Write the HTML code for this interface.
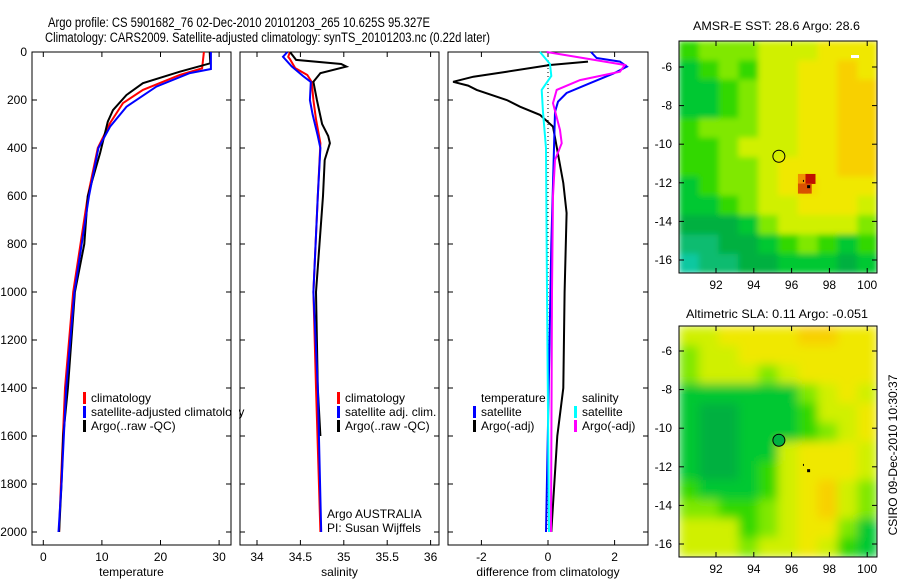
<!DOCTYPE html>
<html><head><meta charset="utf-8"><style>
body{margin:0;background:#fff}
svg{display:block;font-family:"Liberation Sans",sans-serif}
</style></head><body>
<svg id="s" width="900" height="580" viewBox="0 0 900 580" xmlns="http://www.w3.org/2000/svg">
<defs>
<filter id="bl" x="0" y="0" width="1" height="1"><feGaussianBlur stdDeviation="5" edgeMode="duplicate"/></filter>
<filter id="bl2" x="0" y="0" width="1" height="1"><feGaussianBlur stdDeviation="3" edgeMode="duplicate"/></filter>
<clipPath id="c1"><rect x="679" y="41" width="198" height="232"/></clipPath>
<clipPath id="c2"><rect x="679" y="326" width="198" height="231"/></clipPath>
</defs>
<text x="48" y="27" font-size="13.5" textLength="382" lengthAdjust="spacingAndGlyphs">Argo profile: CS 5901682_76 02-Dec-2010 20101203_265 10.625S 95.327E</text>
<text x="45" y="42" font-size="13.5" textLength="445" lengthAdjust="spacingAndGlyphs">Climatology: CARS2009. Satellite-adjusted climatology: synTS_20101203.nc (0.22d later)</text>
<text x="693" y="30" font-size="12" textLength="167" lengthAdjust="spacingAndGlyphs">AMSR-E SST: 28.6 Argo: 28.6</text>
<text x="686" y="318" font-size="12" textLength="182" lengthAdjust="spacingAndGlyphs">Altimetric SLA: 0.11 Argo: -0.051</text>
<text transform="translate(897,455) rotate(-90)" font-size="12" text-anchor="middle">CSIRO 09-Dec-2010 10:30:37</text>
<g id="g"></g>
</svg>
<script>
// ---- Temperature panel data ----
const tArgoD=[0,47,82,130,179,242,290,421,600,800,1000,1400,1600,1800,2000];
const tArgoV=[28.4,28.5,23.3,17,14.2,11.9,11,9.7,7.6,7.0,5.4,4.2,3.4,3.1,2.7];
const tClimD=[0,68,96,158,213,296,400,600,1000,1400,1800,2000];
const tClimV=[27.4,27.1,23.3,17,13.6,11.4,9.3,7.6,5.1,3.7,3.0,2.7];
const tSatD=[0,71,88,144,228,311,400,600,1000,1400,1800,2000];
const tSatV=[28.6,28.6,25,19.3,14.2,11.4,9.4,7.8,5.3,3.9,3.1,2.6];
// ---- Salinity panel data ----
const sArgoD=[0,33,50,61,88,124,200,300,350,380,450,600,800,1000,1400,1600];
const sArgoV=[34.38,34.45,34.97,35.03,34.73,34.65,34.69,34.75,34.82,34.84,34.78,34.76,34.72,34.68,34.70,34.73];
const sClimD=[0,20,30,67,96,125,200,280,380,600,1000,1400,2000];
const sClimV=[34.38,34.36,34.38,34.44,34.58,34.63,34.65,34.68,34.73,34.70,34.65,34.68,34.73];
const sSatD=[0,20,60,100,125,200,260,350,400,600,1000,1400,2000];
const sSatV=[34.35,34.3,34.4,34.53,34.62,34.61,34.64,34.70,34.73,34.70,34.65,34.70,34.74];
// ---- Difference panel data ----
const dTSatD=[0,25,40,61,90,130,171,207,250,400,800,1400,2000];
const dTSatV=[1.29,1.46,2.16,2.37,1.96,1.26,0.56,0.3,0.21,0.18,0.1,0.02,-0.06];
const dTArgoD=[40,54,82,103,124,140,158,200,228,262,311,546,671,1000,1400,1600,2000];
const dTArgoV=[1.2,0.06,-1.24,-2.24,-2.85,-2.4,-2.14,-1.24,-0.84,-0.24,0.15,0.46,0.56,0.5,0.46,0.28,0.1];
const dSSatD=[0,50,100,158,250,400,1000,2000];
const dSSatV=[-0.24,0.06,0.1,-0.19,-0.15,-0.06,-0.03,0.03];
const dSArgoD=[0,25,54,82,117,158,213,325,380,450,600,1000,2000];
const dSArgoV=[-0.04,1.05,2.31,2.16,0.96,0.26,0.15,0.36,0.41,0.21,0.15,0.12,0.09];
// ---- Map grids (color index 0..10), rows top->bottom ----
const sstGrid=[
[4,5,5,5,6,6,6,7,7,7],[3,4,5,4,6,6,7,7,8,7],[3,3,4,5,6,6,7,7,8,8],[3,3,4,5,6,6,7,7,8,8],
[4,5,5,5,6,6,7,7,8,8],[4,4,5,6,6,6,7,7,8,8],[4,4,5,5,6,7,7,7,8,8],[3,4,5,5,6,7,7.5,7,7,7],
[3,3,4,5,6,6,7,7,7,6],[2,2,2,3,5,6,6,6,6,5],[1,1,2,2,3,4,5,4,3,4],[0,1,1,2,2,3,3,3,2,3]];
const slaGrid=[
[6,6,7,7,7,7,8,8,7,7],[5,6,6,7,7,7,7,7,7,7],[5,6,6,6,5,6,7,7,7,7],[3,3,3,3,3,3,5,6,7,6],
[3,2,2,3,3,3,4,6,6,7],[3,2,2,3,3,3,4,5,6,7],[3,2,2,3,3,6,7,7,7,6],[3,2,2,3,4,6,7,7,7,6],
[4,3,3,3,4,6,7,8,6,5],[5,5,4,4,5,6,7,8,6,5],[6,6,6,4,5,6,7,7,5,3],[6,6,6,5,6,6,7,6,4,3]];
const depthTicks=[0,200,400,600,800,1000,1200,1400,1600,1800,2000];
const tTicks=[0,10,20,30], sTicks=[34,34.5,35,35.5,36], dTicks=[-2,0,2];
const latTicks=[-6,-8,-10,-12,-14,-16], lonTicks=[92,94,96,98,100];
const argoLon=95.327, argoLat=-10.625;

const NS='http://www.w3.org/2000/svg', G=document.getElementById('g');
function mk(t,a,p){const e=document.createElementNS(NS,t);for(const k in a)e.setAttribute(k,a[k]);(p||G).appendChild(e);return e;}
const yD=d=>52+d*0.24;
const panels=[
 {x0:32,x1:231,f:v=>43.3+v*5.86,ticks:tTicks,title:'temperature',name:'temperature'},
 {x0:240,x1:439,f:v=>257+(v-34)*86.8,ticks:sTicks,title:'salinity',name:'salinity'},
 {x0:448,x1:648,f:v=>548+v*33.3,ticks:dTicks,title:'difference from climatology',name:'difference'}];
panels.forEach((p,i)=>{
 const r=mk('rect',{x:p.x0,y:52,width:p.x1-p.x0,height:493,fill:'none',stroke:'#000','stroke-width':1});
 
 
 depthTicks.forEach(d=>{
  mk('line',{x1:p.x0,x2:p.x0+5,y1:yD(d),y2:yD(d),stroke:'#000'});
  mk('line',{x1:p.x1-5,x2:p.x1,y1:yD(d),y2:yD(d),stroke:'#000'});
  if(i==0){const t=mk('text',{x:27,y:yD(d)+4,'font-size':12,'text-anchor':'end'});t.textContent=d;
   
   }
 });
 p.ticks.forEach(v=>{const x=p.f(v);
  mk('line',{x1:x,x2:x,y1:52,y2:57,stroke:'#000'});mk('line',{x1:x,x2:x,y1:540,y2:545,stroke:'#000'});
  const t=mk('text',{x:x,y:561,'font-size':12,'text-anchor':'middle'});t.textContent=v;
  
  });
 const tt=mk('text',{x:(p.x0+p.x1)/2,y:576,'font-size':12,'text-anchor':'middle'});tt.textContent=p.title;
 
 
});
function line(D,V,f,col,name){const pts=D.map((d,k)=>f(V[k]).toFixed(1)+','+yD(d).toFixed(1)).join(' ');
 const l=mk('polyline',{points:pts,fill:'none',stroke:col,'stroke-width':2});
 
 }
mk('line',{x1:548,x2:548,y1:52,y2:530,stroke:'#000','stroke-dasharray':'1,3'});
line(tClimD,tClimV,panels[0].f,'#f00','temp-climatology-line');
line(tArgoD,tArgoV,panels[0].f,'#000','temp-argo-line');
line(tSatD,tSatV,panels[0].f,'#00f','temp-satellite-line');
line(sClimD,sClimV,panels[1].f,'#f00','sal-climatology-line');
line(sArgoD,sArgoV,panels[1].f,'#000','sal-argo-line');
line(sSatD,sSatV,panels[1].f,'#00f','sal-satellite-line');
line(dTArgoD,dTArgoV,panels[2].f,'#000','diff-temp-argo-line');
line(dTSatD,dTSatV,panels[2].f,'#00f','diff-temp-satellite-line');
line(dSSatD,dSSatV,panels[2].f,'#0ff','diff-sal-satellite-line');
line(dSArgoD,dSArgoV,panels[2].f,'#f0f','diff-sal-argo-line');
function leg(x,y,col,txt,name){ if(col)mk('rect',{x:x,y:y-10,width:3,height:12,fill:col});
 const t=mk('text',{x:x+8,y:y,'font-size':12});t.textContent=txt;
 
 }
leg(83,402,'#f00','climatology','legend-climatology');
leg(83,416,'#00f','satellite-adjusted climatology','legend-satellite-adjusted');
leg(83,430,'#000','Argo(..raw -QC)','legend-argo');
leg(337,402,'#f00','climatology','legend-sal-climatology');
leg(337,416,'#00f','satellite adj. clim.','legend-sal-satellite');
leg(337,430,'#000','Argo(..raw -QC)','legend-sal-argo');
leg(319,518,null,'Argo AUSTRALIA','argo-australia-label');
leg(319,532,null,'PI: Susan Wijffels','pi-label');
leg(473,402,null,'temperature','legend-temp-header');
leg(473,416,'#00f','satellite','legend-temp-satellite');
leg(473,430,'#000','Argo(-adj)','legend-temp-argo');
leg(574,402,null,'salinity','legend-sal-header');
leg(574,416,'#0ff','satellite','legend-diff-sal-satellite');
leg(574,430,'#f0f','Argo(-adj)','legend-diff-sal-argo');
// overflow clip for panel-1 legend text (clipped by next panel in reference)
mk('rect',{x:232,y:400,width:7,height:20,fill:'#fff'});
mk('line',{x1:231,x2:231,y1:390,y2:420,stroke:'#000'});
mk('line',{x1:240,x2:240,y1:390,y2:420,stroke:'#000'});
// maps
const stops=[[0,[16,200,160]],[2,[0,176,64]],[3,[0,200,48]],[4,[48,216,0]],[5,[128,232,0]],[6,[208,240,0]],[7,[240,232,0]],[8,[248,208,0]],[9,[240,144,0]],[10,[192,16,0]]];
function cmap(v){for(let k=1;k<stops.length;k++){if(v<=stops[k][0]){const a=stops[k-1],b=stops[k],t=(v-a[0])/(b[0]-a[0]);
 return 'rgb('+a[1].map((c,j)=>Math.round(c+(b[1][j]-c)*t)).join(',')+')';}}return 'rgb(192,16,0)';}
function map(m){
 const lx=v=>716+(v-92)*18.9, ly=v=>m.y6+(-6-v)*19.3;
 const gg=mk('g',{'clip-path':'url(#'+m.clip+')'});
 const inner=mk('g',{filter:'url(#'+m.filt+')'},gg);
 const rows=m.grid.length, cols=m.grid[0].length, cw=198/cols, rh=m.h/rows;
 m.grid.forEach((row,r)=>row.forEach((v,c)=>{const e=mk('rect',{x:679+c*cw,y:m.y0+r*rh,width:cw+0.5,height:rh+0.5,fill:cmap(v)},inner);
  
  }));
 if(m.hot){[[96.6,-11.8,9],[97.0,-11.8,10],[96.8,-12.3,9.5],[96.6,-12.3,9.5]].forEach(h=>{
  mk('rect',{x:lx(h[0])-5,y:ly(h[1])-5,width:10,height:10,fill:cmap(h[2])},gg);});
  mk('rect',{x:851,y:55,width:8,height:3,fill:'#fff'},gg);}
 const fr=mk('rect',{x:679,y:m.y0,width:198,height:m.h,fill:'none',stroke:'#000'});
 
 
 latTicks.forEach(v=>{const y=ly(v);mk('line',{x1:679,x2:684,y1:y,y2:y,stroke:'#000'});mk('line',{x1:872,x2:877,y1:y,y2:y,stroke:'#000'});
  const t=mk('text',{x:672,y:y+4,'font-size':12,'text-anchor':'end'});t.textContent=v;
  
  });
 lonTicks.forEach(v=>{const x=lx(v);mk('line',{x1:x,x2:x,y1:m.y0,y2:m.y0+5,stroke:'#000'});mk('line',{x1:x,x2:x,y1:m.y0+m.h-5,y2:m.y0+m.h,stroke:'#000'});
  const t=mk('text',{x:x,y:m.y0+m.h+16,'font-size':12,'text-anchor':'middle'});t.textContent=v;
  
  });
 const c=mk('circle',{cx:lx(argoLon),cy:ly(argoLat),r:6,fill:m.fillC,stroke:'#000'});
 
 
 mk('rect',{x:lx(96.9)-1.5,y:ly(-12.2)-1.5,width:3,height:3,fill:'#000'});
 mk('rect',{x:lx(96.6),y:ly(-11.85),width:1,height:2,fill:'#000'});
}
map({grid:sstGrid,y0:41,h:232,y6:67,clip:'c1',filt:'bl2',hot:true,fillC:'none',name:'sst-map'});
map({grid:slaGrid,y0:326,h:231,y6:351,clip:'c2',filt:'bl',hot:false,fillC:'#00b040',name:'sla-map'});
</script>
</body></html>
